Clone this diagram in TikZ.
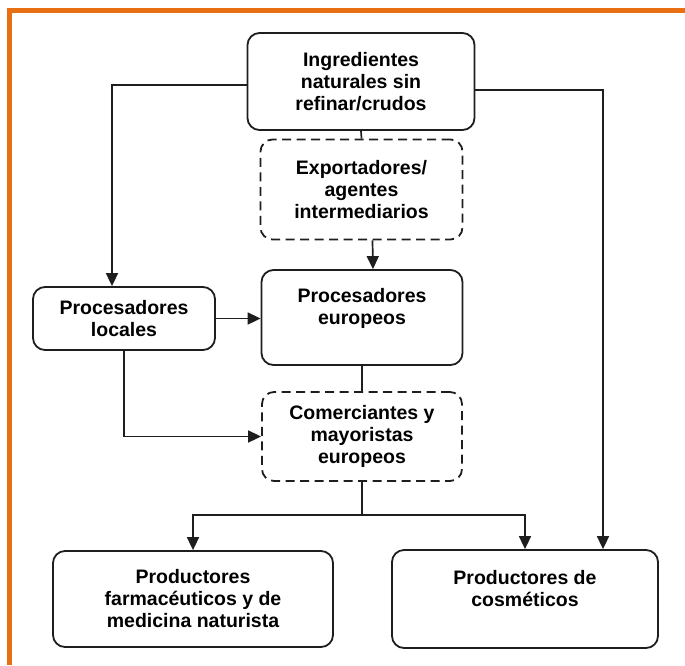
\documentclass[tikz,border=0pt]{standalone}
\usepackage{fontspec}
\setmainfont{Liberation Sans}
\usetikzlibrary{arrows.meta}
\definecolor{naranja}{RGB}{232,112,18}
\definecolor{tinta}{RGB}{30,30,30}

\begin{document}
\begin{tikzpicture}[x=1pt,y=-1pt,
            caja/.style={draw=tinta,line width=1.8pt,rounded corners=12pt,align=center,inner sep=0pt,
                font=\bfseries\fontsize{19.5}{22}\selectfont},
            cajatrazos/.style={caja,dash pattern=on 9pt off 5.5pt},
            flecha/.style={draw=tinta,line width=1.7pt,-{Triangle[length=13pt,width=12pt]}},
            linea/.style={draw=tinta,line width=1.7pt}]
            \useasboundingbox (0,0) rectangle (685,665);
            \draw[naranja,line width=5pt] (685,10) -- (9.75,10) -- (9.75,665);

            \node[caja,minimum width=227pt,minimum height=97pt] (ingr) at (361,81.5) {Ingredientes\\naturales sin\\refinar/crudos};
            \node[cajatrazos,minimum width=202pt,minimum height=100pt] (expo) at (361.5,189.5) {Exportadores/\\agentes\\intermediarios};
            \node[caja,minimum width=182pt,minimum height=63pt] (procl) at (124,318.5) {Procesadores\\locales};
            \node[caja,minimum width=201pt,minimum height=95pt] (proce) at (362,317.5) {Procesadores\\europeos\\\phantom{X}};
            \node[cajatrazos,minimum width=200pt,minimum height=89pt] (come) at (362,436.5) {Comerciantes y\\mayoristas\\europeos};
            \node[caja,minimum width=280pt,minimum height=96pt] (farm) at (193,599) {Productores\\farmacéuticos y de\\medicina naturista};
            \node[caja,minimum width=266pt,minimum height=98pt] (cosm) at (525,599) {Productores de\\cosméticos\\\phantom{X}};

            \coordinate (rama) at (362,515);

            \draw[flecha] ([yshift=-3.5pt]ingr.west) -| ([xshift=-12pt]procl.north);
            \draw[flecha] ([yshift=-8.5pt]ingr.east) -| ([xshift=78pt]cosm.north);
            \draw[linea] (ingr.south) -- (expo.north);
            \draw[flecha] ([xshift=11pt]expo.south) -- ([xshift=11pt]proce.north);
            \draw[flecha] (procl.east) -- (procl.east -| proce.west);
            \draw[flecha] (procl.south) |- (come.west);
            \draw[linea] (proce.south) -- (come.north);
            \draw[linea] (come.south) -- (rama);
            \draw[flecha] (rama) -| (farm.north);
            \draw[flecha] (rama) -| (cosm.north);
        \end{tikzpicture}
\end{document}
